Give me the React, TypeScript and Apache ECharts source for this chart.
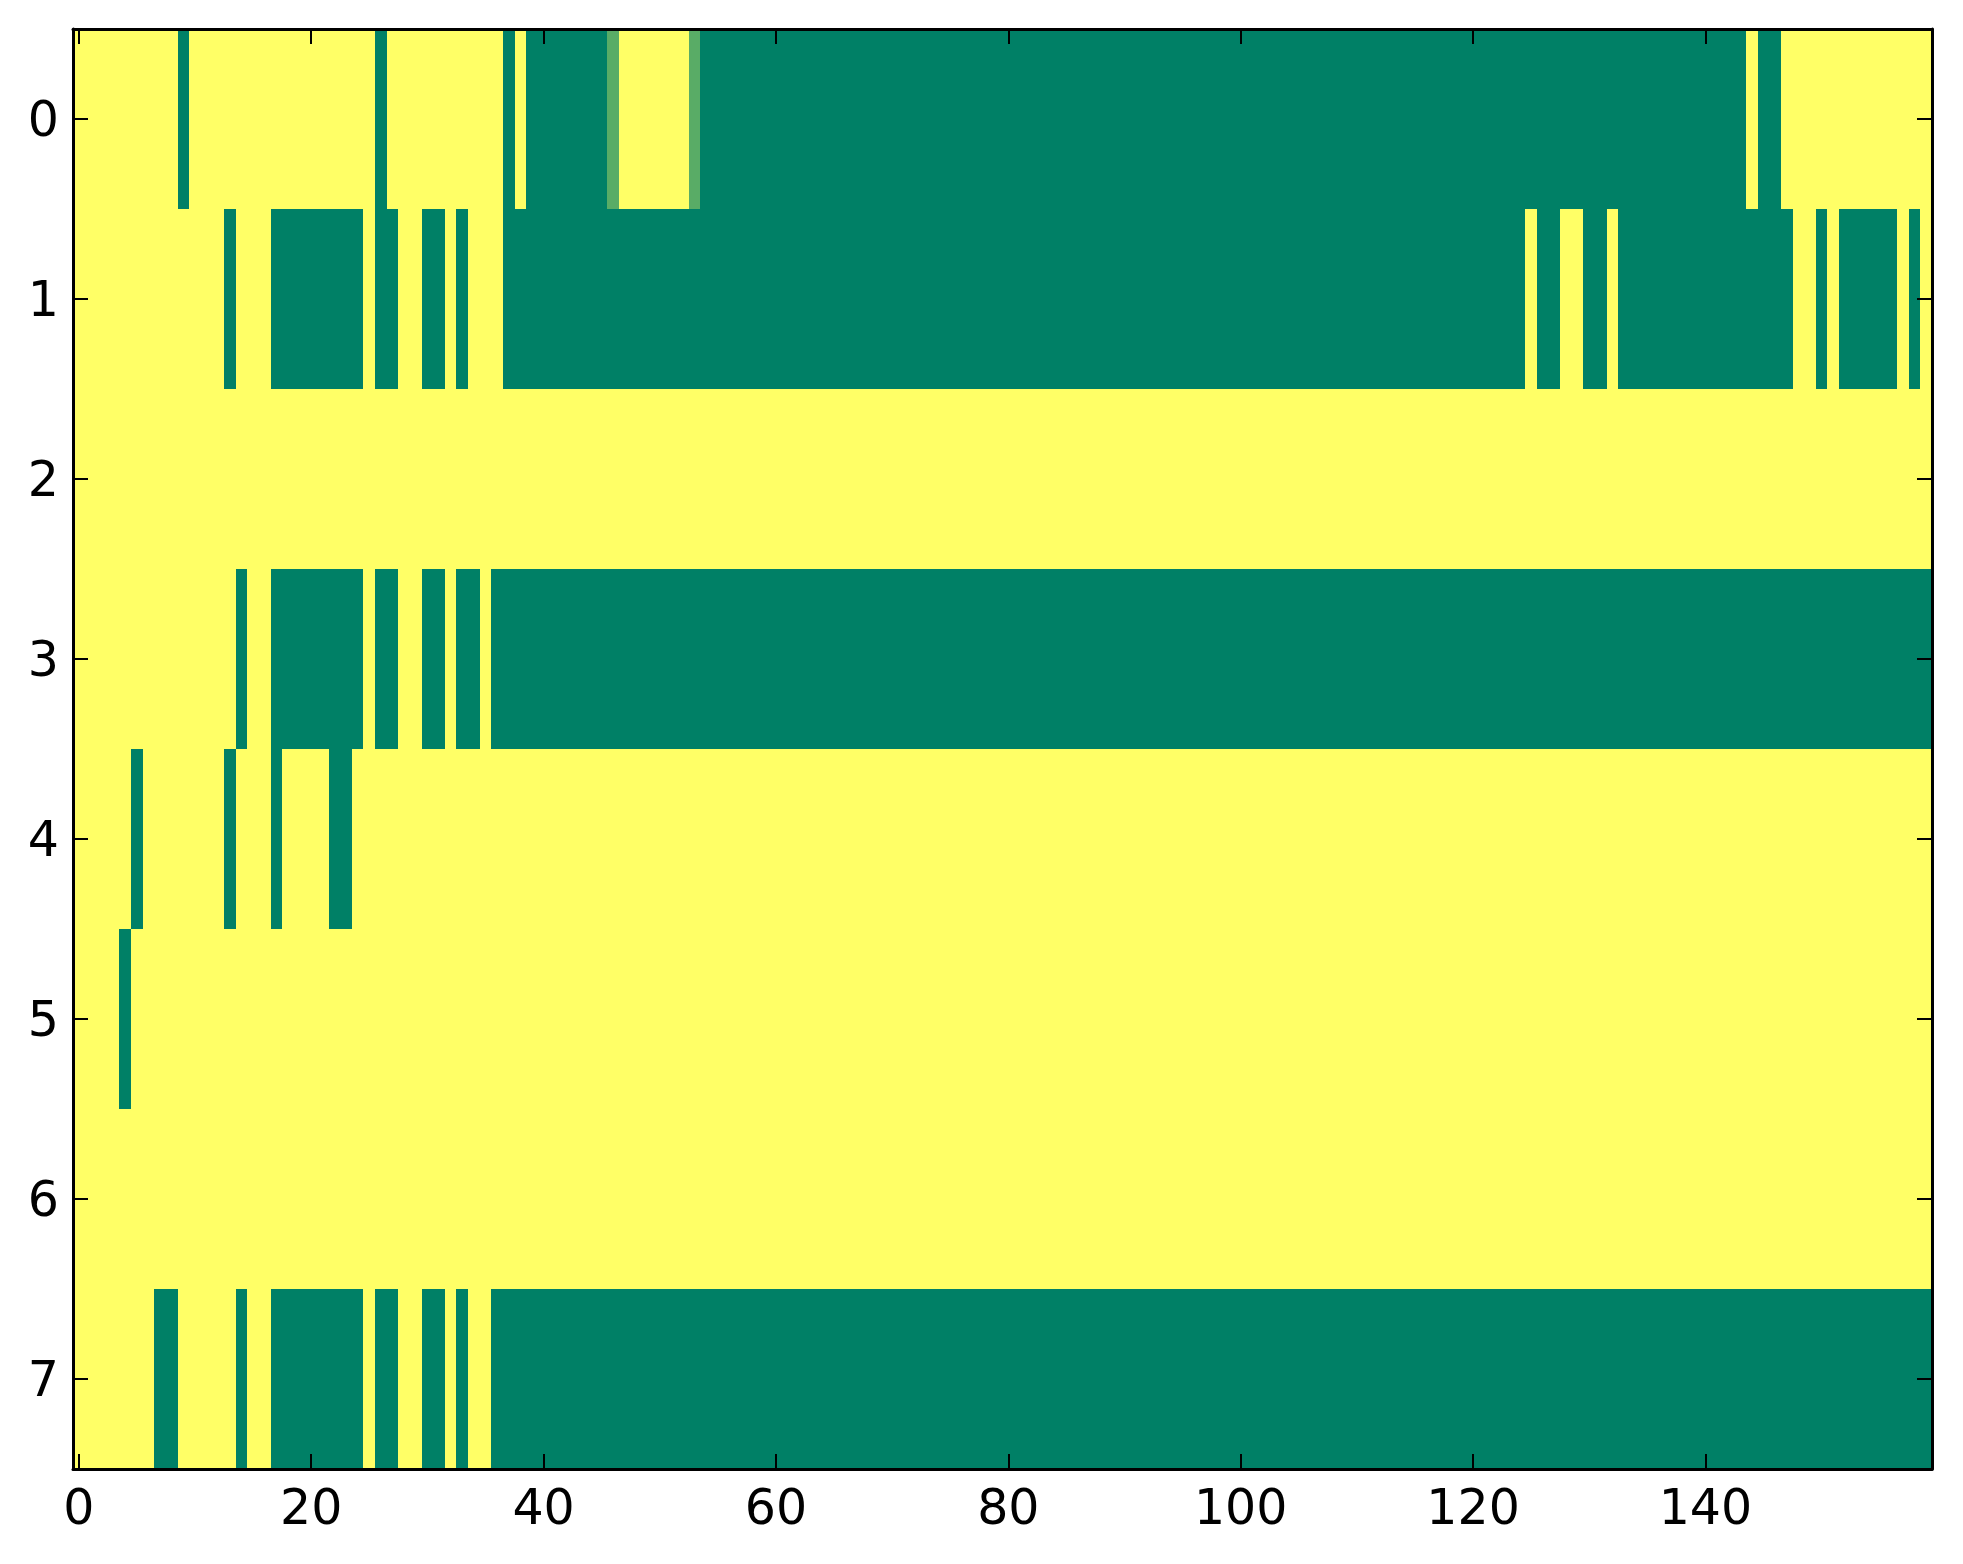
import React, { useEffect, useRef } from "react";
import * as echarts from "echarts";

// Runs per row: [firstColumn, lastColumn, value]  (1 = yellow, 0 = green)
const row0 = [[0,8,1],[9,9,0],[10,25,1],[26,26,0],[27,36,1],[37,37,0],[38,38,1],[39,45,0],[46,46,0.35],[47,52,1],[53,53,0.35],[54,143,0],[144,144,1],[145,146,0],[147,159,1]];
const row1 = [[0,12,1],[13,13,0],[14,16,1],[17,24,0],[25,25,1],[26,27,0],[28,29,1],[30,31,0],[32,32,1],[33,33,0],[34,36,1],[37,124,0],[125,125,1],[126,127,0],[128,129,1],[130,131,0],[132,132,1],[133,147,0],[148,149,1],[150,150,0],[151,151,1],[152,156,0],[157,157,1],[158,158,0],[159,159,1]];
const row2 = [[0,159,1]];
const row3 = [[0,13,1],[14,14,0],[15,16,1],[17,24,0],[25,25,1],[26,27,0],[28,29,1],[30,31,0],[32,32,1],[33,34,0],[35,35,1],[36,159,0]];
const row4 = [[0,4,1],[5,5,0],[6,12,1],[13,13,0],[14,16,1],[17,17,0],[18,21,1],[22,23,0],[24,159,1]];
const row5 = [[0,3,1],[4,4,0],[5,159,1]];
const row6 = [[0,159,1]];
const row7 = [[0,6,1],[7,8,0],[9,13,1],[14,14,0],[15,16,1],[17,24,0],[25,25,1],[26,27,0],[28,29,1],[30,31,0],[32,32,1],[33,33,0],[34,35,1],[36,159,0]];

const rows = [row0, row1, row2, row3, row4, row5, row6, row7];
const numColumns = 160;
const xCategories = Array.from({ length: numColumns }, (_, i) => String(i));
const yCategories = ["0", "1", "2", "3", "4", "5", "6", "7"];
const xTickStep = 20;

export default function App() {
  const ref = useRef<HTMLDivElement>(null);
  useEffect(() => {
    if (!ref.current) return;
    const chart = echarts.init(ref.current, null, { renderer: "svg" });
    const data: number[][] = [];
    rows.forEach((runs, r) => {
      runs.forEach((run) => data.push([run[0], run[1], r, run[2]]));
    });
    const font = { fontFamily: "DejaVu Sans", fontSize: 49, color: "#000" };
    const lineStyle = { color: "#000", width: 3 };
    const tickStyle = { color: "#000", width: 2 };
    const xInterval = (i: number) => i % xTickStep === 0;
    chart.setOption({
      animation: false,
      backgroundColor: "#fff",
      grid: { left: 73, right: 31, top: 29, bottom: 95, containLabel: false },
      visualMap: {
        type: "continuous",
        show: false,
        min: 0,
        max: 1,
        dimension: 3,
        seriesIndex: 0,
        inRange: { color: ["#008066", "#ffff66"] },
      },
      xAxis: [
        {
          type: "category",
          data: xCategories,
          position: "bottom",
          z: 10,
          axisLine: { show: true, lineStyle },
          axisTick: { show: true, inside: true, length: 15, alignWithLabel: true, interval: xInterval, lineStyle: tickStyle },
          axisLabel: { show: true, interval: xInterval, margin: 14, ...font },
          splitLine: { show: false },
        },
        {
          type: "category",
          data: xCategories,
          position: "top",
          z: 10,
          axisLine: { show: true, lineStyle },
          axisTick: { show: true, inside: true, length: 15, alignWithLabel: true, interval: xInterval, lineStyle: tickStyle },
          axisLabel: { show: false },
          splitLine: { show: false },
        },
      ],
      yAxis: [
        {
          type: "category",
          data: yCategories,
          inverse: true,
          position: "left",
          z: 10,
          axisLine: { show: true, lineStyle },
          axisTick: { show: true, inside: true, length: 15, alignWithLabel: true, interval: 0, lineStyle: tickStyle },
          axisLabel: { show: true, interval: 0, margin: 14, ...font },
          splitLine: { show: false },
        },
        {
          type: "category",
          data: yCategories,
          inverse: true,
          position: "right",
          z: 10,
          axisLine: { show: true, lineStyle },
          axisTick: { show: true, inside: true, length: 15, alignWithLabel: true, interval: 0, lineStyle: tickStyle },
          axisLabel: { show: false },
          splitLine: { show: false },
        },
      ],
      series: [
        {
          type: "custom",
          xAxisIndex: 0,
          yAxisIndex: 0,
          encode: { x: [0, 1], y: 2 },
          data,
          renderItem: (params: any, api: any) => {
            const s = api.value(0);
            const e = api.value(1);
            const r = api.value(2);
            const p0 = api.coord([s, r]);
            const p1 = api.coord([e, r]);
            const size = api.size([1, 1]);
            const x0 = Math.round(p0[0] - size[0] / 2);
            const x1 = Math.round(p1[0] + size[0] / 2);
            const y0 = Math.round(p0[1] - size[1] / 2);
            const y1 = Math.round(p0[1] + size[1] / 2);
            return {
              type: "rect",
              shape: { x: x0, y: y0, width: x1 - x0, height: y1 - y0 },
              style: { fill: api.visual("color") },
            };
          },
        },
      ],
    });
    return () => chart.dispose();
  }, []);
  return (
    <div
      ref={ref}
      style={{ position: "absolute", left: 0, top: 0, width: 1963, height: 1564 }}
    />
  );
}
